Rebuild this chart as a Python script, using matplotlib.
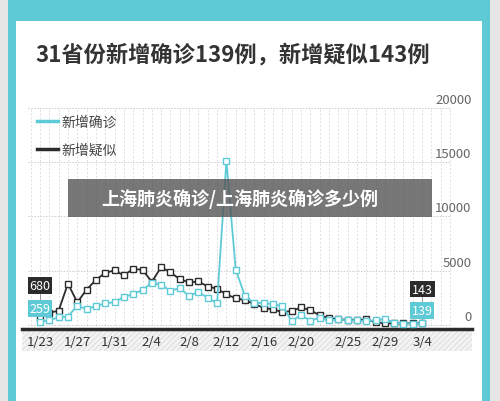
import matplotlib
matplotlib.use("Agg")
import matplotlib.pyplot as plt
from matplotlib.patches import Rectangle

plt.rcParams['font.family'] = ['Noto Sans CJK SC', 'DejaVu Sans']

dates = ["1/23","1/24","1/25","1/26","1/27","1/28","1/29","1/30","1/31","2/1","2/2","2/3","2/4","2/5",
         "2/6","2/7","2/8","2/9","2/10","2/11","2/12","2/13","2/14","2/15","2/16","2/17","2/18","2/19",
         "2/20","2/21","2/22","2/23","2/24","2/25","2/26","2/27","2/28","2/29","3/1","3/2","3/3","3/4"]
confirmed = [259,444,688,769,1771,1459,1737,1982,2102,2590,2829,3235,3887,3694,3143,3399,2656,3062,2478,2015,
             15152,5090,2641,2009,2048,1886,1749,394,889,397,648,409,508,406,433,327,427,573,202,125,119,139]
suspected = [680,1118,1309,3806,2077,3248,4148,4812,5019,4562,5173,5072,3971,5328,4833,4214,3916,4008,3536,3342,
             2807,2450,2277,1918,1563,1432,1185,1277,1614,1361,882,620,530,452,439,508,248,141,129,143,143,143]
tick_labels = ["1/23","1/27","1/31","2/4","2/8","2/12","2/16","2/20","2/25","2/29","3/4"]
yticks = [0,5000,10000,15000,20000]

W,H = 500,402
fig = plt.figure(figsize=(5,4.02), dpi=100)
fig.patch.set_facecolor('#e6e6e6')
cyan = '#5ecad6'
dark = '#2b2b2b'
def frect(x,y,w,h,**kw):
    kw.setdefault('edgecolor','none'); kw.setdefault('zorder',-5)
    fig.patches.append(Rectangle((x/W,y/H),w/W,h/H,transform=fig.transFigure,**kw))
frect(8,0,482,H,facecolor=cyan)
frect(16,0,466,H-22,facecolor='white')
frect(22,H-14,60,9,facecolor=cyan)
frect(418,H-14,56,9,facecolor=cyan)
frect(82,H-10,336,1.5,facecolor=cyan)
frect(22,H-352,450,20,facecolor='#f4f4f4',edgecolor='#e2e2e2',hatch='//////',lw=0)

fig.text(35/W,1-55/H,"31省份新增确诊139例，新增疑似143例",fontsize=16,fontweight='bold',color='#333333',va='center')

ax = fig.add_axes([22/W,(H-330)/H,450/W,222/H])
ax.set_facecolor('none')
ax.set_xlim(-1.93,46.35)
ax.set_ylim(-380,20100)
for s in ax.spines.values(): s.set_visible(False)
ax.set_xticks([]); ax.set_yticks([])
x = list(range(len(dates)))
for i in range(-1,45):
    ax.plot([i,i],[0,20000],color='#dddddd',lw=0.7,ls=(0,(2,2)),zorder=0)
for v in yticks:
    ax.plot([-1.3,44],[v,v],color='#cccccc',lw=0.7,ls=(0,(1.5,1.5)),zorder=0)
    ax.text(46.3,v+800,str(v),ha='right',va='center',fontsize=9.5,color='#666666')
ax.axhline(-380,color=dark,lw=2.5,clip_on=False)
ax.plot(x,suspected,color=dark,lw=1.3,marker='s',ms=4,mfc='white',mec=dark,mew=1,zorder=3)
ax.plot(x,confirmed,color=cyan,lw=1.3,marker='s',ms=4,mfc='white',mec=cyan,mew=1,zorder=4)
for lab in tick_labels:
    i = dates.index(lab)
    ax.text(i,-1550,lab,ha='center',va='center',fontsize=9.5,color='#333333',clip_on=False)
def box(xv,yv,txt,fc):
    ax.text(xv,yv,txt,ha='center',va='center',fontsize=9,color='white',
            bbox=dict(boxstyle='square,pad=0.15',fc=fc,ec='none'),zorder=6)
ax.plot([0,0],[confirmed[0],3600],color='#999999',lw=0.7,zorder=2)
box(0,3600,"680",dark); box(0,1500,"259",cyan)
ax.plot([41,41],[confirmed[-1],3300],color='#999999',lw=0.7,zorder=2)
box(41,3300,"143",dark); box(41,1350,"139",cyan)
ax.plot([-0.3,1.9],[18800,18800],color=cyan,lw=2.5,clip_on=False)
ax.text(2.3,18800,"新增确诊",fontsize=10,va='center',color='#444444')
ax.plot([-0.3,1.9],[16200,16200],color=dark,lw=2.5,clip_on=False)
ax.text(2.3,16200,"新增疑似",fontsize=10,va='center',color='#444444')

frect(68,H-218,364,38,facecolor='#555555',alpha=0.8,zorder=10)
fig.text(240/W,1-199/H,"上海肺炎确诊/上海肺炎确诊多少例",fontsize=13,fontweight='bold',color='white',ha='center',va='center',zorder=11)

fig.savefig("out.png",dpi=100)
